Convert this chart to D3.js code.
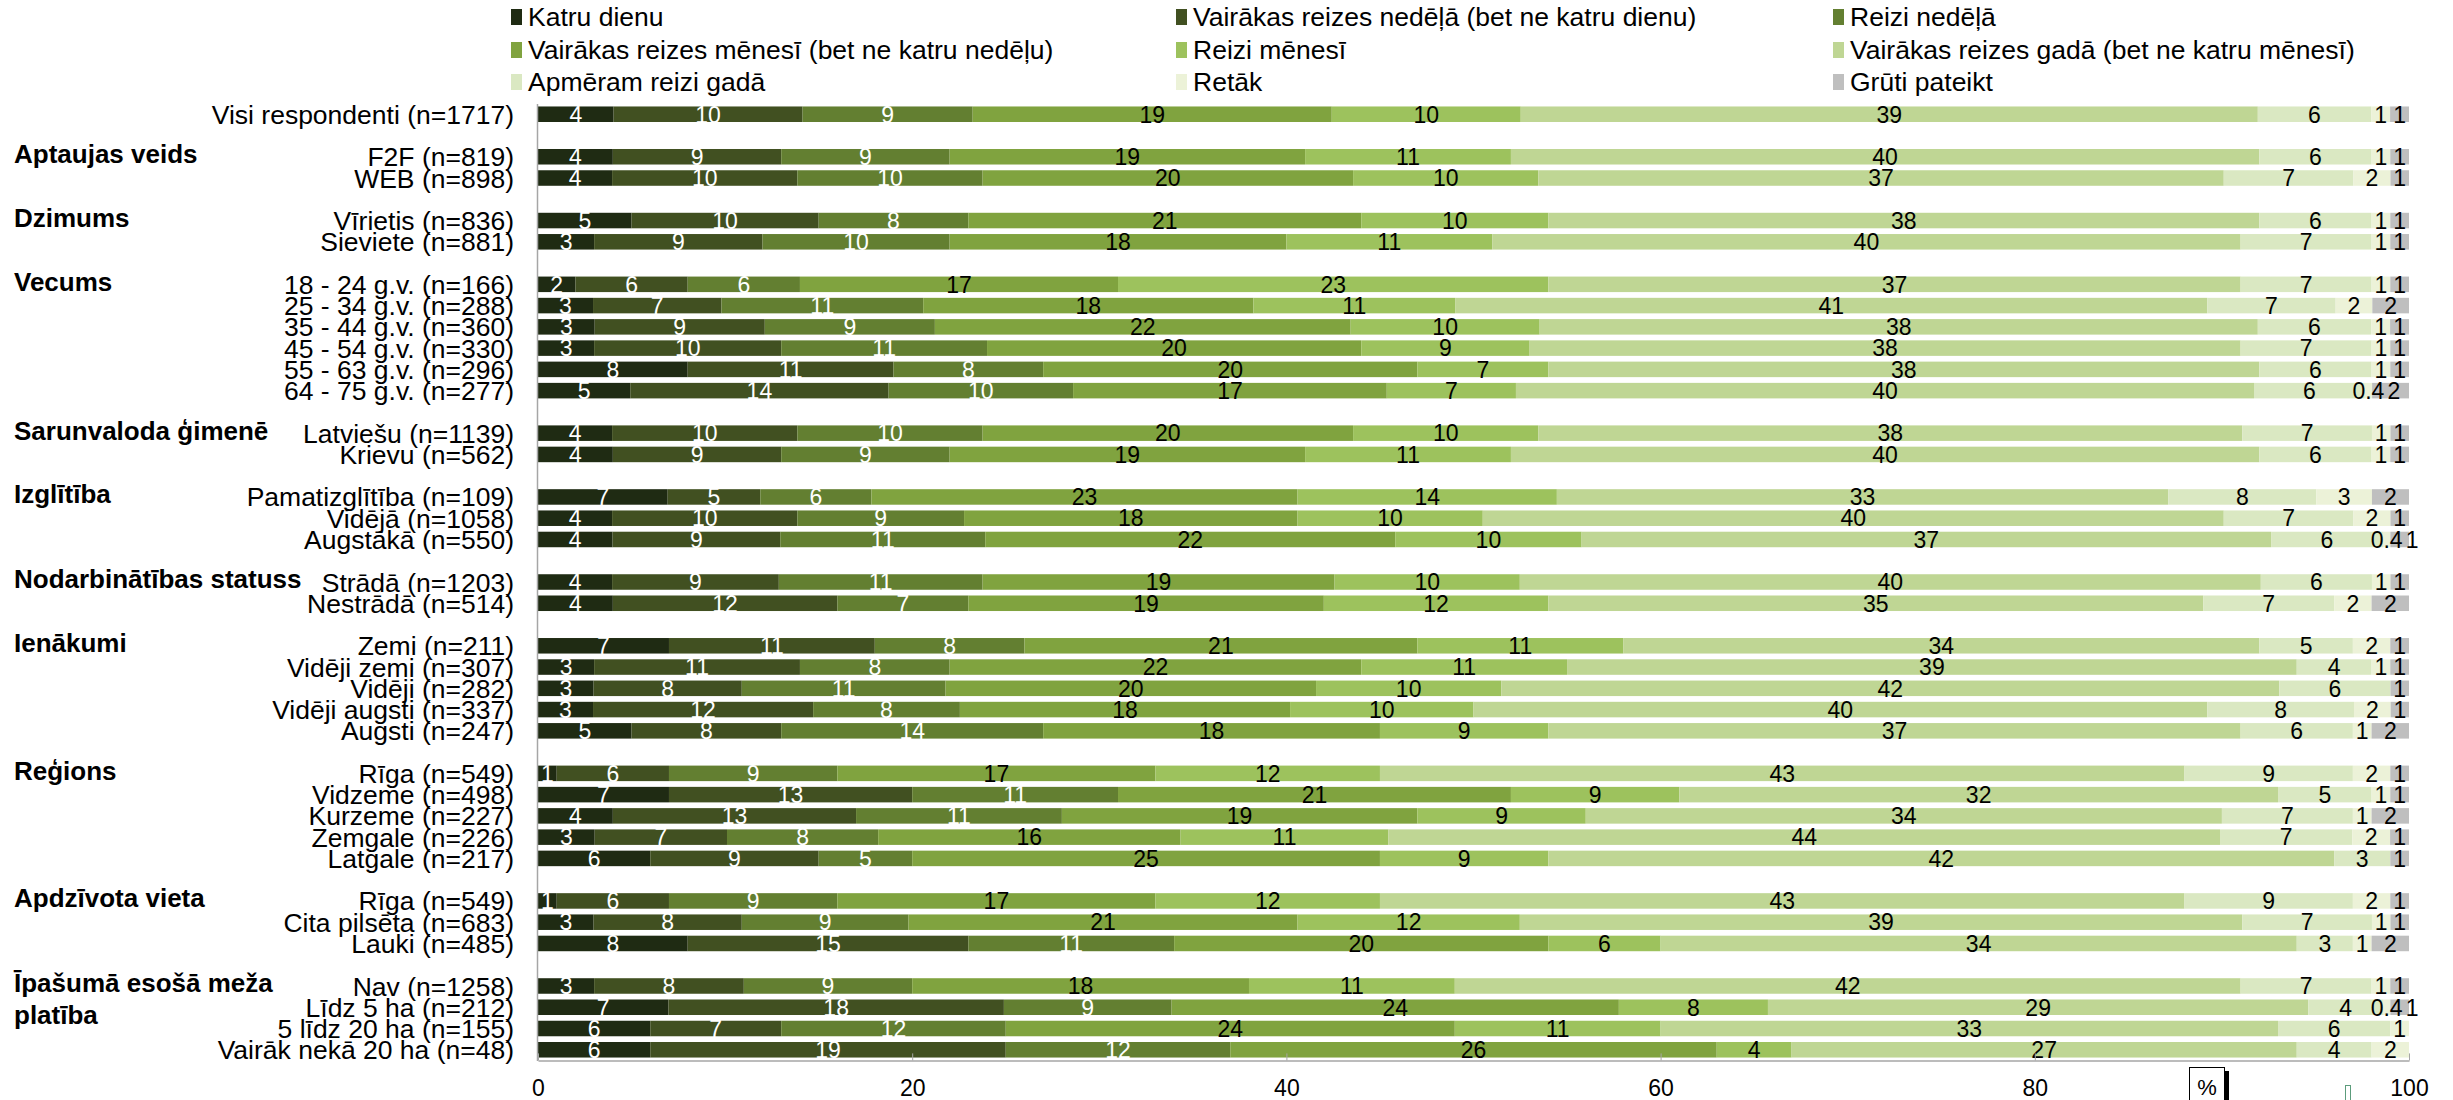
<!DOCTYPE html>
<html><head><meta charset="utf-8">
<script src="https://cdn.jsdelivr.net/npm/d3@7"></script>
<style>
body{margin:0;background:#fff;}
text{font-family:"Liberation Sans",Arial,Helvetica,sans-serif;}
</style>
</head><body>
<svg id="c" width="2453" height="1100"></svg>
<script>
// ---------- DATA ----------
const categories = [
  "Visi respondenti (n=1717)", "",
  "F2F (n=819)", "WEB (n=898)", "",
  "Vīrietis (n=836)", "Sieviete (n=881)", "",
  "18 - 24 g.v. (n=166)", "25 - 34 g.v. (n=288)", "35 - 44 g.v. (n=360)",
  "45 - 54 g.v. (n=330)", "55 - 63 g.v. (n=296)", "64 - 75 g.v. (n=277)", "",
  "Latviešu (n=1139)", "Krievu (n=562)", "",
  "Pamatizglītība (n=109)", "Vidējā (n=1058)", "Augstākā (n=550)", "",
  "Strādā (n=1203)", "Nestrādā (n=514)", "",
  "Zemi (n=211)", "Vidēji zemi (n=307)", "Vidēji (n=282)", "Vidēji augsti (n=337)", "Augsti (n=247)", "",
  "Rīga (n=549)", "Vidzeme (n=498)", "Kurzeme (n=227)", "Zemgale (n=226)", "Latgale (n=217)", "",
  "Rīga (n=549)", "Cita pilsēta (n=683)", "Lauki (n=485)", "",
  "Nav (n=1258)", "Līdz 5 ha (n=212)", "5 līdz 20 ha (n=155)", "Vairāk nekā 20 ha (n=48)"
];
const groupHeaders = [
  {lines:["Aptaujas veids"], row:2},
  {lines:["Dzimums"], row:5},
  {lines:["Vecums"], row:8},
  {lines:["Sarunvaloda ģimenē"], row:15},
  {lines:["Izglītība"], row:18},
  {lines:["Nodarbinātības statuss"], row:22},
  {lines:["Ienākumi"], row:25},
  {lines:["Reģions"], row:31},
  {lines:["Apdzīvota vieta"], row:37},
  {lines:["Īpašumā esošā meža", "platība"], row:41}
];
const seriesNames = [
  "Katru dienu",
  "Vairākas reizes nedēļā (bet ne katru dienu)",
  "Reizi nedēļā",
  "Vairākas reizes mēnesī (bet ne katru nedēļu)",
  "Reizi mēnesī",
  "Vairākas reizes gadā (bet ne katru mēnesī)",
  "Apmēram reizi gadā",
  "Retāk",
  "Grūti pateikt"
];
const seriesColors = ["#1f2b13","#415021","#637f31","#80a33f","#9dc25d","#bfd694","#dae8c2","#ecf2d8","#bfbfbf"];
const labelColors  = ["#ffffff","#ffffff","#ffffff","#000","#000","#000","#000","#000","#000"];

const katruDienu   = [4,null,4,4,null,5,3,null,2,3,3,3,8,5,null,4,4,null,7,4,4,null,4,4,null,7,3,3,3,5,null,1,7,4,3,6,null,1,3,8,null,3,7,6,6];
const vairNedela   = [10,null,9,10,null,10,9,null,6,7,9,10,11,14,null,10,9,null,5,10,9,null,9,12,null,11,11,8,12,8,null,6,13,13,7,9,null,6,8,15,null,8,18,7,19];
const reiziNedela  = [9,null,9,10,null,8,10,null,6,11,9,11,8,10,null,10,9,null,6,9,11,null,11,7,null,8,8,11,8,14,null,9,11,11,8,5,null,9,9,11,null,9,9,12,12];
const vairMenesi   = [19,null,19,20,null,21,18,null,17,18,22,20,20,17,null,20,19,null,23,18,22,null,19,19,null,21,22,20,18,18,null,17,21,19,16,25,null,17,21,20,null,18,24,24,26];
const reiziMenesi  = [10,null,11,10,null,10,11,null,23,11,10,9,7,7,null,10,11,null,14,10,10,null,10,12,null,11,11,10,10,9,null,12,9,9,11,9,null,12,12,6,null,11,8,11,4];
const vairGada     = [39,null,40,37,null,38,40,null,37,41,38,38,38,40,null,38,40,null,33,40,37,null,40,35,null,34,39,42,40,37,null,43,32,34,44,42,null,43,39,34,null,42,29,33,27];
const apmReiziGada = [6,null,6,7,null,6,7,null,7,7,6,7,6,6,null,7,6,null,8,7,6,null,6,7,null,5,4,6,8,6,null,9,5,7,7,3,null,9,7,3,null,7,4,6,4];
const retak        = [1,null,1,2,null,1,1,null,1,2,1,1,1,0.4,null,1,1,null,3,2,0.4,null,1,2,null,2,1,0,2,1,null,2,1,1,2,0,null,2,1,1,null,1,0.4,1,2];
const grutiPateikt = [1,null,1,1,null,1,1,null,1,2,1,1,1,2,null,1,1,null,2,1,1,null,1,2,null,1,1,1,1,2,null,1,1,2,1,1,null,1,1,2,null,1,1,0,0];
const seriesValues = [katruDienu,vairNedela,reiziNedela,vairMenesi,reiziMenesi,vairGada,apmReiziGada,retak,grutiPateikt];
const xTicks = [0,20,40,60,80,100];

// ---------- CHART ----------
const svg = d3.select("#c");
const x = d3.scaleLinear().domain([0,100]).range([538,2409]);
const y = d3.scaleBand().domain(d3.range(categories.length)).range([103.6,1060.4])
  .paddingInner(0.27).paddingOuter(0.135);
const yc = i => y(i) + y.bandwidth()/2;

// legend
const legendCols = [511,1176,1833];
const legendRows = [17,50,82];
const lg = svg.append("g");
seriesNames.forEach((n,i)=>{
  const cx = legendCols[i%3], cy = legendRows[Math.floor(i/3)];
  lg.append("rect").attr("x",cx).attr("y",cy-8).attr("width",11).attr("height",16).attr("fill",seriesColors[i]);
  lg.append("text").attr("x",cx+17).attr("y",cy).attr("dy","0.35em").attr("font-size",26.5).text(n);
});

// bars
const rowsG = svg.append("g");
categories.forEach((c,i)=>{
  if (katruDienu[i] === null) return;
  const vals = seriesValues.map(s=>s[i]);
  const total = d3.sum(vals);
  let cum = 0;
  const segs = vals.map((v,k)=>{ const s={k,v,x0:cum/total*100,x1:(cum+v)/total*100}; cum+=v; return s; });
  const g = rowsG.append("g");
  g.selectAll("rect").data(segs.filter(s=>s.v>0)).join("rect")
    .attr("x",s=>x(s.x0)).attr("width",s=>x(s.x1)-x(s.x0))
    .attr("y",y(i)).attr("height",y.bandwidth())
    .attr("fill",s=>seriesColors[s.k]);
  // labels with simple left-to-right collision avoidance
  let prevRight = -Infinity;
  segs.filter(s=>s.v>0).forEach(s=>{
    const t = g.append("text").attr("font-size",23).attr("text-anchor","middle")
      .attr("fill",labelColors[s.k]).attr("y",yc(i)).attr("dy","0.36em").text(String(s.v));
    const w = t.node().getComputedTextLength();
    let cx = x((s.x0+s.x1)/2);
    if (cx - w/2 < prevRight + 3) cx = prevRight + 3 + w/2;
    t.attr("x",cx);
    prevRight = cx + w/2;
  });
});

// category labels
svg.append("g").selectAll("text").data(categories.map((c,i)=>({c,i})).filter(d=>d.c)).join("text")
  .attr("x",514).attr("y",d=>yc(d.i)).attr("dy","0.36em").attr("text-anchor","end")
  .attr("font-size",26.5).text(d=>d.c);

// group headers
groupHeaders.forEach(h=>{
  h.lines.forEach((ln,j)=>{
    svg.append("text").attr("x",14).attr("y",yc(h.row)-3+j*32).attr("dy","0.36em")
      .attr("font-size",26).attr("font-weight","bold").text(ln);
  });
});

// left axis line
const ay = svg.append("g").attr("transform",`translate(${x(0)-1},0)`)
  .call(d3.axisLeft(y).tickValues([]).tickSizeOuter(0));
ay.select(".domain").attr("stroke","#a6a6a6").attr("stroke-width",1.5);

// bottom axis
const ax = svg.append("g").attr("transform",`translate(0,${y.range()[1]})`)
  .call(d3.axisBottom(x).tickValues(xTicks).tickSize(-7).tickSizeOuter(0).tickPadding(19));
ax.select(".domain").attr("stroke","#a6a6a6").attr("stroke-width",1.5);
ax.selectAll(".tick line").attr("stroke","#a6a6a6");
ax.selectAll(".tick text").attr("font-size",23).attr("font-family","Liberation Sans, Arial, sans-serif").attr("fill","#000");

// "%" box
const pb = svg.append("g");
pb.append("rect").attr("x",2224).attr("y",1071).attr("width",5).attr("height",40).attr("fill","#000");
pb.append("rect").attr("x",2189.5).attr("y",1067.5).attr("width",35).attr("height",40).attr("fill","#fff").attr("stroke","#000").attr("stroke-width",1);
pb.append("text").attr("x",2207).attr("y",1087).attr("dy","0.36em").attr("text-anchor","middle").attr("font-size",22).text("%");
pb.append("rect").attr("x",2345.5).attr("y",1085.5).attr("width",5).attr("height",15).attr("fill","none").attr("stroke","#5c9c7c").attr("stroke-width",1);
</script>
</body></html>
